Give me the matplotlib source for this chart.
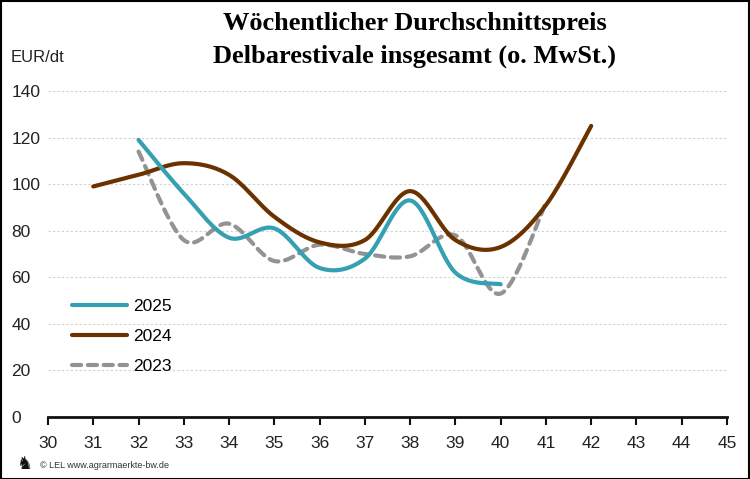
import numpy as np
import matplotlib
matplotlib.use("Agg")
import matplotlib.pyplot as plt
from matplotlib import font_manager as fm

weeks_2025 = [32, 33, 34, 35, 36, 37, 38, 39, 40]
vals_2025 = [119, 96, 77, 81, 64, 68, 93, 62, 57]
weeks_2024 = [31, 32, 33, 34, 35, 36, 37, 38, 39, 40, 41, 42]
vals_2024 = [99, 104, 109, 104, 86, 75, 76, 97, 76, 73, 91, 125]
weeks_2023 = [32, 33, 34, 35, 36, 37, 38, 39, 40, 41]
vals_2023 = [114, 76, 83, 67, 74, 70, 69, 78, 53, 92]

x_ticks = list(range(30, 46))
y_ticks = [0, 20, 40, 60, 80, 100, 120, 140]
title = "Wöchentlicher Durchschnittspreis\nDelbarestivale insgesamt (o. MwSt.)"

names = {f.name for f in fm.fontManager.ttflist}
sans = "Liberation Sans Narrow" if "Liberation Sans Narrow" in names else "Liberation Sans"


def smooth(xs, ys, n=30):
    xs = np.asarray(xs, float); ys = np.asarray(ys, float)
    P = np.column_stack([xs, ys])
    P = np.vstack([P[0], P, P[-1]])
    out = []
    for i in range(1, len(P) - 2):
        p0, p1, p2, p3 = P[i - 1], P[i], P[i + 1], P[i + 2]
        c1 = p1 + (p2 - p0) / 6
        c2 = p2 - (p3 - p1) / 6
        t = np.linspace(0, 1, n)[:, None]
        seg = (1 - t) ** 3 * p1 + 3 * (1 - t) ** 2 * t * c1 + 3 * (1 - t) * t ** 2 * c2 + t ** 3 * p2
        out.append(seg if i == 1 else seg[1:])
    s = np.vstack(out)
    return s[:, 0], s[:, 1]


fig = plt.figure(figsize=(7.5, 4.79), dpi=100)
ax = fig.add_axes([48 / 750, 1 - 417 / 479, (727 - 48) / 750, (417 - 91) / 479])

x, y = smooth(weeks_2024, vals_2024)
ax.plot(x, y, color="#6B3200", lw=3.0, solid_capstyle="round", label="2024", zorder=3)
x, y = smooth(weeks_2023, vals_2023)
ax.plot(x, y, color="#939393", lw=3.0, ls=(0, (2.2, 1.6)), dash_capstyle="round", label="2023", zorder=2)
x, y = smooth(weeks_2025, vals_2025)
ax.plot(x, y, color="#34A0B2", lw=3.0, solid_capstyle="round", label="2025", zorder=4)

ax.set_xlim(30, 45)
ax.set_ylim(0, 140)
ax.set_xticks(x_ticks)
ax.set_yticks(y_ticks)
ax.grid(axis="y", color="#D0D0D0", lw=0.8, ls=(0, (2, 2)))
ax.set_axisbelow(True)
for s in ["left", "right", "top"]:
    ax.spines[s].set_visible(False)
ax.spines["bottom"].set_linewidth(2.0)
ax.spines["bottom"].set_color("#111111")
ax.tick_params(axis="x", direction="out", length=6, width=1.5, color="#111111",
               labelsize=12.5, pad=8, labelcolor="#222222")
ax.tick_params(axis="y", length=0, labelsize=12.5, pad=26.5, labelcolor="#222222")
for lab in ax.get_yticklabels():
    lab.set_ha("left")
for lab in ax.get_xticklabels() + ax.get_yticklabels():
    lab.set_family(sans)

handles, labels = ax.get_legend_handles_labels()
order = [2, 0, 1]
ax.legend([handles[i] for i in order], [labels[i] for i in order], loc="lower left",
          bbox_to_anchor=(0.013, 0.085), frameon=False, handlelength=3.15, handletextpad=0.35,
          labelspacing=0.85, prop={"family": sans, "size": 12.5})

fig.text(0.553, 0.975, title, ha="center", va="top", fontsize=19, fontweight="bold",
         family="Liberation Serif", linespacing=1.55)
fig.text(11 / 750, 1 - 57 / 479, "EUR/dt", ha="left", va="center", fontsize=12, family=sans,
         color="#222222")
fig.text(40 / 750, 1 - 465 / 479, "© LEL www.agrarmaerkte-bw.de", ha="left", va="center",
         fontsize=6.5, family=sans, color="#333333")
fig.text(24 / 750, 1 - 464 / 479, "\u265E", ha="center", va="center", fontsize=13,
         family="DejaVu Sans", color="#111111")

fig.patches.append(plt.Rectangle((0.001, 0.001), 0.998, 0.997, transform=fig.transFigure,
                                 fill=False, ec="black", lw=1.5))
fig.savefig("out.png", dpi=100)
